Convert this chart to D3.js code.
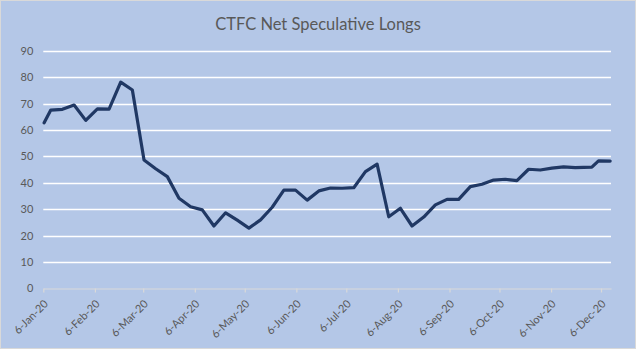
<!DOCTYPE html>
<html>
<head>
<meta charset="utf-8">
<script src="https://cdn.jsdelivr.net/npm/d3@7"></script>
<style>
  html, body { margin: 0; padding: 0; background: #fff; }
  svg { display: block; }
  text { font-family: Lato, "Open Sans", "Liberation Sans", sans-serif; fill: #595959; }
</style>
</head>
<body>
<svg id="chart" width="636" height="349"></svg>
<script>
// Weekly CFTC report dates (holiday weeks shift the release day)
const reportDates = [
  "2020-01-06", "2020-01-10", "2020-01-17", "2020-01-24", "2020-01-31",
  "2020-02-07", "2020-02-14", "2020-02-21", "2020-02-28", "2020-03-06",
  "2020-03-13", "2020-03-20", "2020-03-27", "2020-04-03", "2020-04-10",
  "2020-04-17", "2020-04-24", "2020-05-01", "2020-05-08", "2020-05-15",
  "2020-05-22", "2020-05-29", "2020-06-05", "2020-06-12", "2020-06-19",
  "2020-06-26", "2020-07-03", "2020-07-10", "2020-07-17", "2020-07-24",
  "2020-07-31", "2020-08-07", "2020-08-14", "2020-08-21", "2020-08-28",
  "2020-09-04", "2020-09-11", "2020-09-18", "2020-09-25", "2020-10-02",
  "2020-10-09", "2020-10-16", "2020-10-23", "2020-10-30", "2020-11-06",
  "2020-11-13", "2020-11-20", "2020-11-30", "2020-12-04", "2020-12-11"
];

// Net speculative longs (thousands of contracts)
const netLongs = [
  62.7, 67.5, 67.8, 69.4, 63.6,
  68.0, 67.9, 78.1, 75.1, 48.6,
  45.3, 42.3, 34.1, 30.9, 29.7,
  23.6, 28.6, 25.8, 22.8, 25.9,
  30.7, 37.2, 37.2, 33.4, 36.9,
  38.0, 37.9, 38.1, 44.2, 47.0,
  27.1, 30.3, 23.6, 27.0, 31.6,
  33.7, 33.7, 38.5, 39.4, 41.0,
  41.3, 40.8, 45.1, 44.8, 45.5,
  46.0, 45.7, 45.9, 48.3, 48.2
];

const yTicks = [0, 10, 20, 30, 40, 50, 60, 70, 80, 90];
const monthTicks = [
  "2020-01-06", "2020-02-06", "2020-03-06", "2020-04-06", "2020-05-06", "2020-06-06",
  "2020-07-06", "2020-08-06", "2020-09-06", "2020-10-06", "2020-11-06", "2020-12-06"
];
const chartTitle = "CTFC Net Speculative Longs";

const W = 636, H = 349;
const plot = { left: 43.3, right: 611, top: 50.7, bottom: 288.3 };

const parse = d3.utcParse("%Y-%m-%d");
const dayMs = 864e5;
const data = reportDates.map((d, i) => ({ date: parse(d), value: netLongs[i] }));

const svg = d3.select("#chart");

// chart area background and frame
svg.append("rect")
  .attr("x", 0.5).attr("y", 0.5)
  .attr("width", W - 1).attr("height", H - 1)
  .attr("fill", "#B4C7E7")
  .attr("stroke", "#D9D9D9")
  .attr("stroke-width", 1);

// date axis spans the first day through the day after the last report
const x = d3.scaleUtc()
  .domain([data[0].date, new Date(+data[data.length - 1].date + dayMs)])
  .range([plot.left, plot.right]);

const y = d3.scaleLinear()
  .domain([0, 90])
  .range([plot.bottom, plot.top]);

// title
svg.append("text")
  .attr("x", W / 2)
  .attr("y", 30)
  .attr("text-anchor", "middle")
  .style("font-size", "16.5px")
  .text(chartTitle);

// horizontal gridlines
svg.append("g")
  .selectAll("line")
  .data(yTicks.filter(t => t > 0))
  .join("line")
  .attr("x1", plot.left).attr("x2", plot.right)
  .attr("y1", d => Math.round(y(d)) + 0.5)
  .attr("y2", d => Math.round(y(d)) + 0.5)
  .attr("stroke", "#FFFFFF")
  .attr("stroke-width", 1.5);

// y axis labels
const yAxis = d3.axisLeft(y).tickValues(yTicks).tickSize(0).tickPadding(10);
svg.append("g")
  .attr("transform", `translate(${plot.left},0)`)
  .call(yAxis)
  .call(g => g.select(".domain").remove())
  .call(g => g.selectAll("text")
    .style("font-size", "11px")
    .style("font-family", "Lato, 'Open Sans', sans-serif")
    .attr("fill", "#595959"));

// x axis with month ticks
const xAxis = d3.axisBottom(x)
  .tickValues(monthTicks.map(parse))
  .tickFormat(d3.utcFormat("%-d-%b-%y"))
  .tickSizeInner(4)
  .tickSizeOuter(0);

svg.append("g")
  .attr("transform", `translate(0,${Math.round(plot.bottom) + 0.5})`)
  .call(xAxis)
  .call(g => g.select(".domain").attr("stroke", "#D9D9D9").attr("stroke-width", 1.2))
  .call(g => g.selectAll(".tick line").attr("stroke", "#D9D9D9").attr("stroke-width", 1.2))
  .call(g => g.selectAll(".tick text")
    .style("font-size", "11px")
    .style("font-family", "Lato, 'Open Sans', sans-serif")
    .attr("fill", "#595959")
    .attr("text-anchor", "end")
    .attr("dy", null)
    .attr("y", 0)
    .attr("transform", "translate(5,16) rotate(-45)"));

// series line, each point centered within its day
const line = d3.line()
  .x(d => x(new Date(+d.date + dayMs / 2)))
  .y(d => y(d.value))
  .curve(d3.curveLinear);

svg.append("path")
  .datum(data)
  .attr("d", line)
  .attr("fill", "none")
  .attr("stroke", "#203864")
  .attr("stroke-width", 3.2)
  .attr("stroke-linejoin", "round")
  .attr("stroke-linecap", "round");
</script>
</body>
</html>
